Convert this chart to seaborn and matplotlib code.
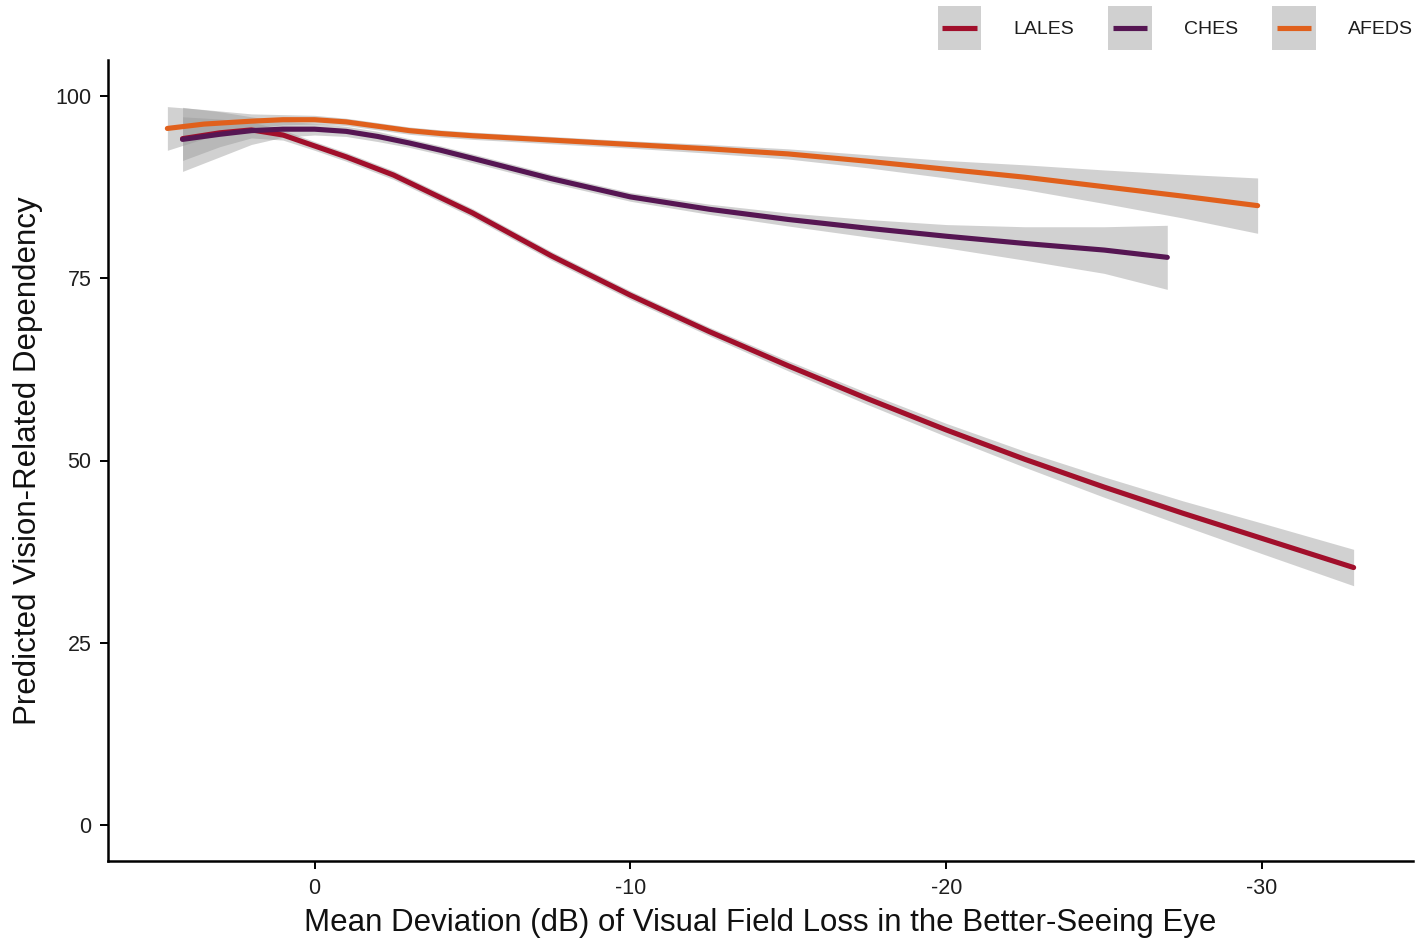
import numpy as np
import pandas as pd
import matplotlib
matplotlib.use("Agg")
import matplotlib.pyplot as plt
from matplotlib.patches import Rectangle
from matplotlib.lines import Line2D
from matplotlib.legend_handler import HandlerBase
import seaborn as sns

# Predicted dependency by mean deviation, per study (fit and 95% CI half-width)
lales_md = [4.18, 3.0, 2.0, 1.0, 0.0, -1.0, -2.5, -5.0, -7.5, -10.0, -12.5, -15.0,
            -17.5, -20.0, -22.5, -25.0, -27.5, -30.0, -32.9]
lales_pred = [94.2, 95.0, 95.4, 94.7, 93.2, 91.7, 89.2, 84.0, 78.1, 72.7, 67.7, 63.0,
              58.5, 54.2, 50.15, 46.35, 42.75, 39.3, 35.3]
lales_ci = [3.0, 1.9, 1.1, 0.7, 0.6, 0.6, 0.6, 0.6, 0.6, 0.6, 0.6, 0.7,
            0.8, 0.9, 1.1, 1.4, 1.7, 2.1, 2.5]

ches_md = [4.18, 3.0, 2.0, 1.0, 0.0, -1.0, -2.0, -3.0, -4.0, -5.0, -7.5, -10.0,
           -12.5, -15.0, -17.5, -20.0, -22.5, -25.0, -27.0]
ches_pred = [94.1, 94.8, 95.3, 95.5, 95.5, 95.2, 94.5, 93.6, 92.6, 91.5, 88.7, 86.2,
             84.5, 83.1, 81.9, 80.8, 79.8, 78.9, 77.9]
ches_ci = [4.4, 3.1, 1.9, 1.1, 0.8, 0.7, 0.7, 0.6, 0.6, 0.6, 0.6, 0.6,
           0.7, 0.9, 1.2, 1.6, 2.3, 3.2, 4.4]

afeds_md = [4.66, 3.5, 2.0, 1.0, 0.0, -1.0, -2.0, -3.0, -4.0, -5.0, -7.5, -10.0,
            -12.5, -15.0, -17.5, -20.0, -22.5, -25.0, -27.5, -29.86]
afeds_pred = [95.6, 96.2, 96.6, 96.8, 96.8, 96.5, 95.9, 95.3, 94.9, 94.6, 94.0, 93.4,
              92.8, 92.1, 91.1, 90.0, 88.9, 87.6, 86.3, 85.0]
afeds_ci = [3.0, 2.0, 1.0, 0.7, 0.6, 0.5, 0.5, 0.5, 0.5, 0.5, 0.5, 0.5,
            0.6, 0.7, 0.9, 1.2, 1.7, 2.3, 3.0, 3.8]

studies = ["LALES", "CHES", "AFEDS"]
colors = {"LALES": "#A10F2B", "CHES": "#561653", "AFEDS": "#E0601C"}

frames = []
for name, md, pred, ci in [("LALES", lales_md, lales_pred, lales_ci),
                           ("CHES", ches_md, ches_pred, ches_ci),
                           ("AFEDS", afeds_md, afeds_pred, afeds_ci)]:
    frames.append(pd.DataFrame({"md": md, "pred": pred, "ci": ci, "study": name}))
df = pd.concat(frames, ignore_index=True)

sns.set_theme(style="ticks")
plt.rcParams["font.family"] = ["Liberation Sans", "DejaVu Sans"]

W, H = 1426, 942
fig = plt.figure(figsize=(W / 100, H / 100), dpi=100)
ax = fig.add_axes([108 / W, 1 - 861 / H, (1413 - 108) / W, (861 - 60) / H])

# Confidence ribbons
for name in studies:
    d = df[df.study == name]
    ax.fill_between(d.md, d.pred - d.ci, d.pred + d.ci, color="#9a9a9a",
                    alpha=0.45, linewidth=0, zorder=1)

sns.lineplot(data=df, x="md", y="pred", hue="study", hue_order=studies,
             palette=colors, linewidth=3.7, ax=ax, legend=False, zorder=3,
             sort=False, estimator=None)

ax.set_xlim(6.54, -34.78)
ax.set_ylim(-5, 105)
ax.set_xticks([0, -10, -20, -30])
ax.set_xticklabels(["0", "-10", "-20", "-30"])
ax.set_yticks([0, 25, 50, 75, 100])
ax.tick_params(axis="both", length=6, width=1.4, color="black",
               labelsize=15.5, labelcolor="#1e1e1e", pad=6)
for side in ["top", "right"]:
    ax.spines[side].set_visible(False)
for side in ["left", "bottom"]:
    ax.spines[side].set_linewidth(1.8)
    ax.spines[side].set_color("black")

ax.set_xlabel("Mean Deviation (dB) of Visual Field Loss in the Better-Seeing Eye",
              fontsize=22.5, color="#111111", labelpad=7)
ax.set_ylabel("Predicted Vision-Related Dependency",
              fontsize=22.5, color="#111111", labelpad=9)


class GreyKey(HandlerBase):
    """Legend key: grey square with a coloured line centred across it."""

    def create_artists(self, legend, orig_handle, xdescent, ydescent,
                       width, height, fontsize, trans):
        x0, y0 = -xdescent, -ydescent
        rect = Rectangle((x0, y0), width, height, facecolor="#d0d0d0",
                         edgecolor="none", transform=trans)
        yc = y0 + height / 2
        line = Line2D([x0 + 0.11 * width, x0 + 0.89 * width], [yc, yc],
                      color=orig_handle.get_color(), linewidth=3.7,
                      solid_capstyle="butt", transform=trans)
        return [rect, line]


handles = [Line2D([0], [0], color=colors[name]) for name in studies]
fig.legend(handles, studies, handler_map={Line2D: GreyKey()},
           loc="upper right", bbox_to_anchor=(1413 / W, 1 - 6 / H), ncol=3,
           frameon=False, fontsize=14, handlelength=2.25, handleheight=3.1,
           columnspacing=1.75, handletextpad=1.65, borderpad=0, borderaxespad=0,
           labelcolor="#1e1e1e")

fig.savefig("out.png", dpi=100, facecolor="white")
